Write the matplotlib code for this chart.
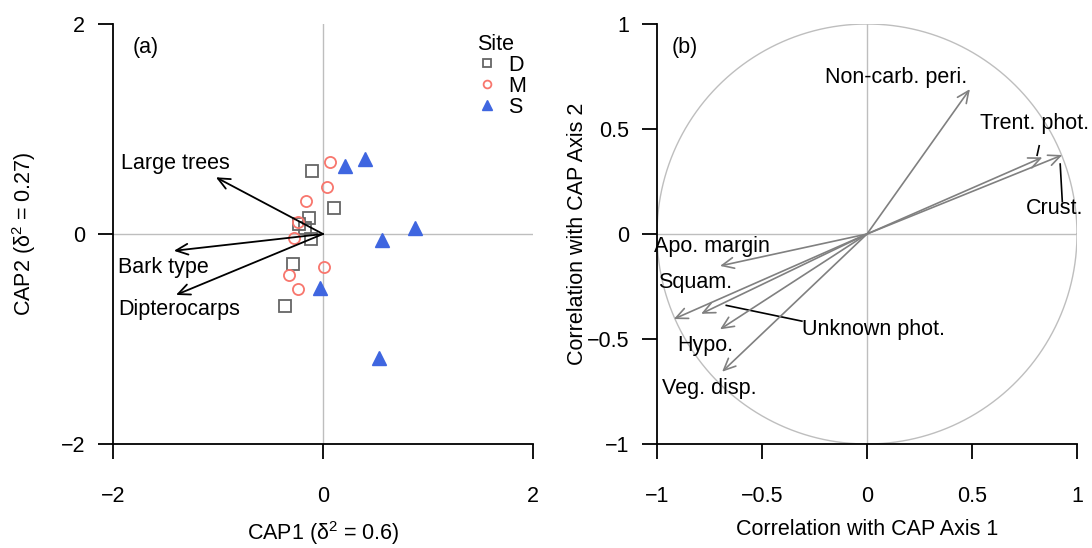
import matplotlib
matplotlib.use("Agg")
import matplotlib.pyplot as plt
import numpy as np

plt.rcParams['font.family'] = ['Liberation Sans', 'DejaVu Sans']
plt.rcParams['mathtext.fontset'] = 'custom'
plt.rcParams['mathtext.rm'] = 'Liberation Sans'
plt.rcParams['mathtext.it'] = 'Liberation Sans'
plt.rcParams['font.size'] = 15.5

# data: site scores (panel a) ##################################################
d_x = [-0.105, 0.10, -0.13, -0.225, -0.17, -0.115, -0.29, -0.36]
d_y = [0.60, 0.25, 0.15, 0.095, 0.054, -0.05, -0.29, -0.69]
m_x = [0.07, 0.04, -0.16, -0.235, -0.28, 0.01, -0.32, -0.235]
m_y = [0.69, 0.45, 0.31, 0.117, -0.04, -0.31, -0.39, -0.52]
s_x = [0.21, 0.40, 0.88, 0.565, -0.03, 0.533]
s_y = [0.65, 0.71, 0.06, -0.06, -0.51, -1.18]

# environmental vectors (panel a)
env_names = ["Large trees", "Bark type", "Dipterocarps"]
env_x = [-1.02, -1.42, -1.40]
env_y = [0.54, -0.16, -0.58]
env_lab_x = [-1.41, -1.52, -1.37]
env_lab_y = [0.67, -0.32, -0.72]

# trait correlations (panel b) #################################################
trait_names = ["Non-carb. peri.", "Trent. phot.", "Crust.", "Apo. margin",
               "Squam.", "Unknown phot.", "Hypo.", "Veg. disp."]
trait_x = [0.49, 0.835, 0.93, -0.70, -0.92, -0.79, -0.70, -0.69]
trait_y = [0.69, 0.365, 0.376, -0.152, -0.405, -0.38, -0.454, -0.656]
trait_lab_x = [0.137, 0.80, 0.895, -0.74, -0.82, 0.03, -0.77, -0.75]
trait_lab_y = [0.746, 0.527, 0.122, -0.06, -0.23, -0.454, -0.53, -0.735]
# leader lines for crowded labels: (name, x0, y0, x1, y1)
leaders = [("Trent. phot.", 0.82, 0.42, 0.81, 0.375),
           ("Crust.", 0.92, 0.333, 0.93, 0.154),
           ("Unknown phot.", -0.67, -0.34, -0.31, -0.415)]

fig = plt.figure(figsize=(10.92, 5.48), dpi=100)
axa = fig.add_axes([113 / 1092, 104 / 548, 420 / 1092, 420 / 548])
axb = fig.add_axes([657 / 1092, 104 / 548, 420 / 1092, 420 / 548])

def r_style(ax, ticks):
    for s in ['top', 'right']:
        ax.spines[s].set_visible(False)
    for s in ['left', 'bottom']:
        ax.spines[s].set_linewidth(1.3)
    ax.set_xticks(ticks)
    ax.set_yticks(ticks)
    ax.tick_params(length=11, width=1.3, labelsize=15.5)
    ax.tick_params(axis='x', pad=19)
    ax.tick_params(axis='y', pad=9)

grey = '#BEBEBE'
head = '->,head_length=0.55,head_width=0.25'

# panel a ######################################################################
axa.set_xlim(-2, 2)
axa.set_ylim(-2, 2)
axa.axhline(0, color=grey, lw=1)
axa.axvline(0, color=grey, lw=1)
axa.plot(d_x, d_y, 's', ms=8, mfc='none', mec='#666666', mew=1.3, label='D')
axa.plot(m_x, m_y, 'o', ms=8, mfc='none', mec='#F8766D', mew=1.3, label='M')
axa.plot(s_x, s_y, '^', ms=9.5, color='#3F66E0', mec='#3F66E0', label='S')
for i in range(len(env_names)):
    axa.annotate('', xy=(env_x[i], env_y[i]), xytext=(0, 0),
                 arrowprops=dict(arrowstyle=head, color='black', lw=1.3,
                                 shrinkA=0, shrinkB=0))
    axa.text(env_lab_x[i], env_lab_y[i], env_names[i], ha='center', va='center')
axa.text(-1.69, 1.78, "(a)", ha='center', va='center')
r_style(axa, [-2, 0, 2])
axa.set_xticklabels(['\u22122', '0', '2'])
axa.set_yticklabels(['\u22122', '0', '2'])
axa.set_xlabel("CAP1 (\u03b4$^2$ = 0.6)", labelpad=9)
axa.set_ylabel("CAP2 (\u03b4$^2$ = 0.27)", labelpad=16)
leg = axa.legend(title='Site', frameon=False, loc='upper left',
                 bbox_to_anchor=(0.84, 1.003), markerscale=0.7, handlelength=1.0,
                 handletextpad=0.45, labelspacing=0.0, borderpad=0,
                 fontsize=15.5, title_fontsize=15.5)
leg._legend_box.align = 'left'

# panel b ######################################################################
axb.set_xlim(-1, 1)
axb.set_ylim(-1, 1)
t = np.linspace(0, 2 * np.pi, 400)
axb.plot(np.cos(t), np.sin(t), color=grey, lw=1)
axb.plot([-1, 1], [0, 0], color=grey, lw=1)
axb.plot([0, 0], [-1, 1], color=grey, lw=1)
for i in range(len(trait_names)):
    axb.annotate('', xy=(trait_x[i], trait_y[i]), xytext=(0, 0),
                 arrowprops=dict(arrowstyle=head, color='#808080', lw=1.2,
                                 shrinkA=0, shrinkB=0))
    axb.text(trait_lab_x[i], trait_lab_y[i], trait_names[i], ha='center', va='center')
for name, x0, y0, x1, y1 in leaders:
    axb.plot([x0, x1], [y0, y1], color='black', lw=1.2)
axb.text(-0.87, 0.89, "(b)", ha='center', va='center')
r_style(axb, [-1, -0.5, 0, 0.5, 1])
lab = ['\u22121', '\u22120.5', '0', '0.5', '1']
axb.set_xticklabels(lab)
axb.set_yticklabels(lab)
axb.set_xlabel("Correlation with CAP Axis 1", labelpad=9)
axb.set_ylabel("Correlation with CAP Axis 2", labelpad=-1)

fig.savefig("out.png", dpi=100)
